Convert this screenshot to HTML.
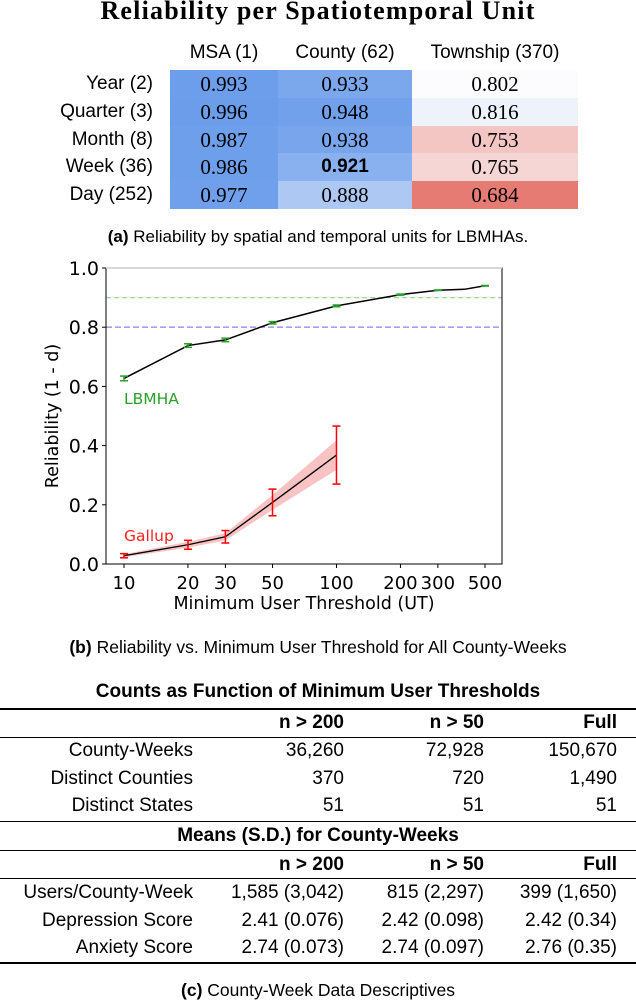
<!DOCTYPE html>
<html><head><meta charset="utf-8">
<style>
body{margin:0;width:636px;height:1002px;background:#fff;position:relative;overflow:hidden;font-family:"Liberation Sans",sans-serif;color:#000}
.abs{position:absolute}
.t{position:absolute;white-space:nowrap}
.cell{position:absolute;text-align:center;font-family:"Liberation Serif",serif;font-size:21px;line-height:28px}
.rl{position:absolute;right:483px;font-size:19px;line-height:28px;white-space:nowrap}
.rule{position:absolute;left:0;width:636px;background:#000}
.tr{position:absolute;font-size:19px;white-space:nowrap;text-align:right;line-height:20px}
</style></head><body>
<div class="t" style="left:0;width:636px;text-align:center;top:-4px;font-family:'Liberation Serif',serif;font-weight:bold;font-size:26px;letter-spacing:1.2px">Reliability per Spatiotemporal Unit</div>
<div class="t" style="left:170px;width:108px;text-align:center;top:42px;font-size:19px">MSA (1)</div>
<div class="t" style="left:278px;width:134px;text-align:center;top:42px;font-size:19px">County (62)</div>
<div class="t" style="left:412px;width:166px;text-align:center;top:42px;font-size:19px">Township (370)</div>
<div id="heat"></div>
<div class="t" style="left:0;width:636px;text-align:center;top:227px;font-size:17px"><b>(a)</b> Reliability by spatial and temporal units for LBMHAs.</div>

<svg id="chart" class="abs" style="left:0;top:250px" width="636" height="380"></svg>
<div class="t" style="left:0;width:636px;text-align:center;top:637px;font-size:17.5px"><b>(b)</b> Reliability vs. Minimum User Threshold for All County-Weeks</div>

<div class="t" style="left:0;width:636px;text-align:center;top:681px;font-size:19px;font-weight:bold">Counts as Function of Minimum User Thresholds</div>
<div class="rule" style="top:708px;height:1.5px"></div>
<div class="rule" style="top:737px;height:1.2px"></div>
<div class="rule" style="top:821px;height:1.2px"></div>
<div class="rule" style="top:850px;height:1px"></div>
<div class="rule" style="top:878px;height:1.2px"></div>
<div class="rule" style="top:962px;height:1.5px"></div>
<div class="t" style="left:0;width:636px;text-align:center;top:825px;font-size:19px;font-weight:bold">Means (S.D.) for County-Weeks</div>
<div id="tbl"></div>
<div class="t" style="left:0;width:636px;text-align:center;top:980px;font-size:17.5px"><b>(c)</b> County-Week Data Descriptives</div>

<script>
const rowLabels=["Year (2)","Quarter (3)","Month (8)","Week (36)","Day (252)"];
const msaVals=["0.993","0.996","0.987","0.986","0.977"];
const countyVals=["0.933","0.948","0.938","0.921","0.888"];
const townshipVals=["0.802","0.816","0.753","0.765","0.684"];
const msaColors=["#6d9eeb","#6b9dea","#6e9feb","#6e9feb","#70a0eb"];
const countyColors=["#7ba7ed","#71a1eb","#78a5ec","#8ab1ef","#adc8f3"];
const townshipColors=["#fcfcfe","#eef3fb","#f3c6c3","#f5d6d4","#e57b72"];
const heat=document.getElementById('heat');
const colX=[170,278,412],colW=[108,134,166];
const cols=[msaVals,countyVals,townshipVals],cc=[msaColors,countyColors,townshipColors];
rowLabels.forEach((lab,i)=>{
  const y=70+i*27.8;
  const l=document.createElement('div');l.className='rl';l.style.top=(y)+'px';l.textContent=lab;
  
  
  heat.appendChild(l);
  for(let c=0;c<3;c++){
    const d=document.createElement('div');d.className='cell';
    d.style.left=colX[c]+'px';d.style.width=colW[c]+'px';d.style.top=y+'px';d.style.height='28px';
    d.style.background=cc[c][i];d.textContent=cols[c][i];
    if(c==1&&i==3){d.style.fontFamily='"Liberation Sans",sans-serif';d.style.fontWeight='bold';d.style.fontSize='19px';}
    
    
    heat.appendChild(d);
  }
});

// chart data
const xTicks=[10,20,30,50,100,200,300,500];
const yTicks=[0.0,0.2,0.4,0.6,0.8,1.0];
const lbX=[10,20,30,50,100,200,300,400,500];
const lbY=[0.627,0.738,0.757,0.815,0.872,0.910,0.925,0.928,0.940];
const lbErr=[0.008,0.006,0.006,0.004,0.003,0.002,0.001,0.001,0.001];
const gX=[10,20,30,50,100];
const gY=[0.028,0.065,0.092,0.208,0.368];
const gErr=[0.007,0.015,0.021,0.045,0.098];
const gBand=[0.005,0.010,0.012,0.025,0.05];
const refLines=[0.9,0.8];

const svg=document.getElementById('chart');
const NS='http://www.w3.org/2000/svg';
const L=106,R=502,T=18,B=314;
const lx0=Math.log10(10),lx1=Math.log10(500),px0=124,px1=485;
const X=v=>px0+(Math.log10(v)-lx0)/(lx1-lx0)*(px1-px0);
const Y=v=>B-(v)*(B-T);
function el(tag,attrs,name){const e=document.createElementNS(NS,tag);for(const k in attrs)e.setAttribute(k,attrs[k]);
  
  
  svg.appendChild(e);return e;}
el('line',{x1:L,x2:R,y1:Y(refLines[0]),y2:Y(refLines[0]),stroke:'#98d898','stroke-width':1.2,'stroke-dasharray':'5,3'},'ref-line-0.9');
el('line',{x1:L,x2:R,y1:Y(refLines[1]),y2:Y(refLines[1]),stroke:'#a0a0f4','stroke-width':1.6,'stroke-dasharray':'6,3'},'ref-line-0.8');
let up=gX.map((x,i)=>X(x)+','+Y(gY[i]+gBand[i])),dn=gX.map((x,i)=>X(x)+','+Y(gY[i]-gBand[i])).reverse();
el('polygon',{points:up.concat(dn).join(' '),fill:'#f7b4b4',opacity:0.8},'gallup-band');
el('polyline',{points:lbX.map((x,i)=>X(x)+','+Y(lbY[i])).join(' '),fill:'none',stroke:'#000','stroke-width':1.5},'lbmha-line');
el('polyline',{points:gX.map((x,i)=>X(x)+','+Y(gY[i])).join(' '),fill:'none',stroke:'#000','stroke-width':1.3},'gallup-line');
function err(xs,ys,es,col,name,skip){xs.forEach((x,i)=>{if(skip&&skip.includes(x))return;const cx=X(x);
  el('line',{x1:cx,x2:cx,y1:Y(ys[i]-es[i]),y2:Y(ys[i]+es[i]),stroke:col,'stroke-width':1.5},name);
  el('line',{x1:cx-4,x2:cx+4,y1:Y(ys[i]-es[i]),y2:Y(ys[i]-es[i]),stroke:col,'stroke-width':1.5},name);
  el('line',{x1:cx-4,x2:cx+4,y1:Y(ys[i]+es[i]),y2:Y(ys[i]+es[i]),stroke:col,'stroke-width':1.5},name);});}
err(lbX,lbY,lbErr,'#2ca02c','lbmha-errorbar',[400]);
err(gX,gY,gErr,'#ff0000','gallup-errorbar');
el('rect',{x:L,y:T,width:R-L,height:B-T,fill:'none',stroke:'#000','stroke-width':1},'plot-frame');
el('line',{x1:L,x2:R,y1:T,y2:T,stroke:'#ccc','stroke-width':1.5},'top-spine');
const F='DejaVu Sans, sans-serif';
yTicks.forEach(v=>{el('line',{x1:L-4,x2:L,y1:Y(v),y2:Y(v),stroke:'#000'},'y-tick');
  const t=el('text',{x:L-7,y:Y(v)+7,'text-anchor':'end','font-family':F,'font-size':19},'y-tick-label');t.textContent=v.toFixed(1);});
xTicks.forEach(v=>{el('line',{x1:X(v),x2:X(v),y1:B,y2:B+4,stroke:'#000'},'x-tick');
  const t=el('text',{x:X(v),y:B+25,'text-anchor':'middle','font-family':F,'font-size':18},'x-tick-label');t.textContent=v;});
let t=el('text',{x:304,y:359,'text-anchor':'middle','font-family':F,'font-size':17.5},'x-axis-title');t.textContent='Minimum User Threshold (UT)';
t=el('text',{x:0,y:0,'text-anchor':'middle','font-family':F,'font-size':17.5,transform:'translate(58,166) rotate(-90)'},'y-axis-title');t.textContent='Reliability (1 - d)';
t=el('text',{x:124,y:154,'font-family':F,'font-size':15.5,fill:'#2ca02c'},'lbmha-label');t.textContent='LBMHA';
t=el('text',{x:124,y:291,'font-family':F,'font-size':15.5,fill:'#ff2020'},'gallup-label');t.textContent='Gallup';

const colRight=[193,344,484,617];
const headers=["n > 200","n > 50","Full"];
const countLabels=["County-Weeks","Distinct Counties","Distinct States"];
const countN200=["36,260","370","51"],countN50=["72,928","720","51"],countFull=["150,670","1,490","51"];
const meanLabels=["Users/County-Week","Depression Score","Anxiety Score"];
const meanN200=["1,585 (3,042)","2.41 (0.076)","2.74 (0.073)"],meanN50=["815 (2,297)","2.42 (0.098)","2.74 (0.097)"],meanFull=["399 (1,650)","2.42 (0.34)","2.76 (0.35)"];
const tbl=document.getElementById('tbl');
function txt(s,right,top,bold,name){const d=document.createElement('div');d.className='tr';d.style.right=(636-right)+'px';d.style.top=top+'px';if(bold)d.style.fontWeight='bold';d.textContent=s;
  
  
  tbl.appendChild(d);}
[713,855].forEach(y=>headers.forEach((h,i)=>txt(h,colRight[i+1],y,true,'column-header')));
countLabels.forEach((l,i)=>{const y=741+i*27.5;txt(l,colRight[0],y,false,'row-label');txt(countN200[i],colRight[1],y,false,'cell');txt(countN50[i],colRight[2],y,false,'cell');txt(countFull[i],colRight[3],y,false,'cell');});
meanLabels.forEach((l,i)=>{const y=883+i*27.5;txt(l,colRight[0],y,false,'row-label');txt(meanN200[i],colRight[1],y,false,'cell');txt(meanN50[i],colRight[2],y,false,'cell');txt(meanFull[i],colRight[3],y,false,'cell');});
</script>
</body></html>
